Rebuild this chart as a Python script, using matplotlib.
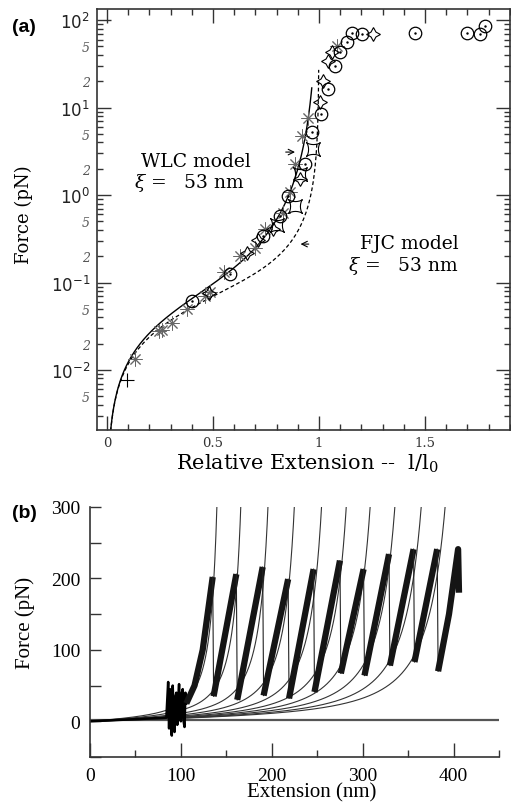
import numpy as np
import matplotlib.pyplot as plt
from matplotlib.path import Path
from matplotlib.ticker import LogLocator, MultipleLocator, FuncFormatter

plt.rcParams['mathtext.fontset'] = 'dejavuserif'

# ---------------- panel (a): DNA stretching, force vs relative extension
circ_x = [0.40, 0.58, 0.737, 0.816, 0.855, 0.934, 0.966, 1.01, 1.044, 1.075, 1.099, 1.131, 1.154, 1.201, 1.453, 1.697, 1.759, 1.783]
circ_f = [0.062, 0.125, 0.34, 0.58, 0.98, 2.26, 5.3, 8.4, 16.3, 30, 43, 56, 72, 69, 71, 71, 69, 85]

ast_x = [0.134, 0.244, 0.26, 0.307, 0.377, 0.464, 0.487, 0.55, 0.627, 0.698, 0.745, 0.832, 0.863, 0.887, 0.918, 0.95, 1.083]
ast_f = [0.0134, 0.028, 0.029, 0.034, 0.050, 0.071, 0.077, 0.131, 0.20, 0.25, 0.41, 0.63, 1.07, 2.26, 4.76, 7.7, 51]

star_x = [0.48, 0.659, 0.714, 0.785, 0.91, 1.005, 1.02, 1.043, 1.06, 1.255]
star_f = [0.075, 0.22, 0.31, 0.41, 1.52, 11.5, 20, 34, 43, 69]

astr_x = [0.80, 0.887, 0.91, 0.97]
astr_f = [0.45, 0.75, 1.74, 3.4]

plus_x = [0.094]
plus_f = [0.0076]

kT = 4.1          # pN nm
xi_nm = 53.0      # persistence length of both models
wlc_xmax = 0.966  # solid curve stops here
fjc_fmax = 27.0   # dashed curve stops here

# ---------------- panel (b): titin sawtooth + WLC fits
peak_x = [135, 161, 190, 218, 246, 275, 301, 329, 356, 382]
peak_f = [202, 206, 216, 199, 213, 225, 213, 234, 241, 241]
trough_f = [35, 30, 36, 32, 41, 67, 64, 78, 83, 70]
first_rise_x = [106, 115, 124, 135]
first_rise_f = [25, 50, 100, 202]
last_rise_x = [383, 395, 405, 406]
last_rise_f = [70, 150, 241, 180]
noise_x = [0, 84, 85, 86, 87, 88, 89, 90, 91, 92, 93, 94, 95, 96, 97, 98, 99, 100, 101, 102, 103, 104, 105, 106]
noise_f = [0, 5, 30, 55, -10, 45, 0, -20, 50, 10, -15, 35, 40, -5, 30, 52, 5, 0, 40, 45, 0, -8, 40, 25]
contour_L = [154, 183, 216, 248, 281, 311, 340, 370, 402, 431]
p_titin = 0.4     # nm

W, H = 511, 812
fig = plt.figure(figsize=(W / 100, H / 100), dpi=100)

# ======== (a)
ax1 = fig.add_axes([97 / W, 1 - 431 / H, (510 - 97) / W, (431 - 10) / H])
ax1.set_yscale('log')

x = np.linspace(0.0, wlc_xmax, 800)
f_wlc = kT / xi_nm * (1 / (4 * (1 - x) ** 2) - 0.25 + x)
ax1.plot(x, f_wlc, color='black', lw=1.0)

u = np.logspace(-2, np.log10(fjc_fmax / (kT / (2 * xi_nm))), 800)
x_fjc = 1 / np.tanh(u) - 1 / u
ax1.plot(x_fjc, u * kT / (2 * xi_nm), color='black', lw=0.9, ls=(0, (3, 2)))

t = np.linspace(0, 2 * np.pi, 41)
ax_, ay_ = np.cos(t) ** 3, np.sin(t) ** 3
astroid = Path(np.column_stack([(ax_ - ay_) / np.sqrt(2), (ax_ + ay_) / np.sqrt(2)]))

ax1.plot(ast_x, ast_f, ls='none', marker=(8, 2, 0), ms=10, mew=0.7, color='#666666')
ax1.plot(star_x, star_f, ls='none', marker=(4, 1, 0), ms=10, mfc='none', mec='black', mew=0.8)
ax1.plot(astr_x, astr_f, ls='none', marker=astroid, ms=10, mfc='none', mec='black', mew=0.8)
ax1.plot(plus_x, plus_f, ls='none', marker='+', ms=10, mew=0.8, color='black')
ax1.plot(circ_x, circ_f, ls='none', marker='o', ms=9, mfc='none', mec='black', mew=0.9)
ax1.plot(circ_x, circ_f, ls='none', marker='.', ms=1.5, color='black')

ax1.set_xlim(-0.047, 1.901)
ax1.set_ylim(0.00206, 134)
ax1.xaxis.set_major_locator(MultipleLocator(0.5))
ax1.xaxis.set_minor_locator(MultipleLocator(0.1))
ax1.xaxis.set_major_formatter(FuncFormatter(lambda v, p: '%g' % v))
ax1.yaxis.set_major_locator(LogLocator(base=10, numticks=10))
ax1.yaxis.set_minor_locator(LogLocator(base=10, subs=np.arange(2, 10), numticks=20))


def minor_lab(v, pos):
    m = round(v / 10 ** np.floor(np.log10(v) + 1e-9))
    return str(m) if m in (2, 5) else ''


ax1.yaxis.set_minor_formatter(FuncFormatter(minor_lab))
ax1.tick_params(which='both', direction='in', top=True, right=True, color='#333333', width=1.0)
ax1.tick_params(which='major', length=10)
ax1.tick_params(which='minor', length=4)
ax1.tick_params(axis='x', which='major', labelsize=9.5, pad=4, labelcolor='#333333',
                labelfontfamily='DejaVu Serif')
ax1.tick_params(axis='y', which='major', labelsize=12, pad=5, labelcolor='#222222')
ax1.tick_params(axis='y', which='minor', labelsize=9, pad=5, labelcolor='#555555',
                labelfontfamily='DejaVu Serif')
for lab in ax1.get_yticklabels(minor=True):
    lab.set_style('italic')
for s in ax1.spines.values():
    s.set_linewidth(1.2)
    s.set_color('#333333')

ax1.set_ylabel('Force (pN)', family='DejaVu Serif', fontsize=13)
ax1.yaxis.set_label_coords(-0.155, 0.513)
ax1.set_xlabel('Relative Extension --  l/l$_0$', family='DejaVu Serif', fontsize=15)
ax1.xaxis.set_label_coords(0.51, -0.052)

ax1.text(0.42, 2.45, 'WLC model', family='DejaVu Serif', fontsize=13.5, ha='center', va='center')
ax1.text(0.39, 1.40, r'$\xi$ =   53 nm', family='DejaVu Serif', fontsize=13.5, ha='center', va='center')
ax1.text(1.425, 0.28, 'FJC model', family='DejaVu Serif', fontsize=13.5, ha='center', va='center')
ax1.text(1.40, 0.16, r'$\xi$ =   53 nm', family='DejaVu Serif', fontsize=13.5, ha='center', va='center')
ax1.annotate('', xy=(0.9, 3.1), xytext=(0.83, 3.1),
             arrowprops=dict(arrowstyle='->', lw=0.8, color='black'))
ax1.annotate('', xy=(0.9, 0.275), xytext=(0.965, 0.275),
             arrowprops=dict(arrowstyle='->', lw=0.8, color='black'))

fig.text(12 / W, 1 - 27 / H, '(a)', family='Liberation Sans', weight='bold', fontsize=14, va='center')

# ======== (b)
ax2 = fig.add_axes([90 / W, 1 - 758 / H, (499 - 90) / W, (758 - 508) / H])
ax2.axhline(2, color='#555555', lw=1.6)

for L in contour_L:
    xs = np.linspace(0, L * 0.91, 600)
    r = xs / L
    fs = kT / p_titin * (1 / (4 * (1 - r) ** 2) - 0.25 + r)
    ax2.plot(xs, fs, color='#333333', lw=0.8)

ax2.plot(noise_x, noise_f, color='black', lw=1.8)
ax2.plot(first_rise_x, first_rise_f, color='#151515', lw=4.5, solid_capstyle='butt')
for i in range(len(peak_x)):
    ax2.plot([peak_x[i], peak_x[i] + 1], [peak_f[i], trough_f[i]], color='#222222', lw=0.8)
    if i + 1 < len(peak_x):
        ax2.plot([peak_x[i] + 1, peak_x[i + 1]], [trough_f[i], peak_f[i + 1]],
                 color='#151515', lw=4.5, solid_capstyle='butt')
ax2.plot(last_rise_x, last_rise_f, color='#151515', lw=4.5, solid_capstyle='butt')

ax2.set_xlim(0, 450)
ax2.set_ylim(-50, 300)
ax2.spines['top'].set_visible(False)
ax2.spines['right'].set_visible(False)
for s in ('left', 'bottom'):
    ax2.spines[s].set_linewidth(1.2)
    ax2.spines[s].set_color('#333333')
ax2.xaxis.set_major_locator(MultipleLocator(100))
ax2.xaxis.set_minor_locator(MultipleLocator(50))
ax2.yaxis.set_major_locator(MultipleLocator(100))
ax2.yaxis.set_minor_locator(MultipleLocator(50))
ax2.tick_params(which='both', direction='in', color='#333333', width=1.0)
ax2.tick_params(axis='x', which='major', length=10)
ax2.tick_params(axis='x', which='minor', length=5)
ax2.tick_params(axis='y', which='both', length=8)
ax2.tick_params(which='major', labelsize=14, pad=7, labelfontfamily='Liberation Serif')
ax2.set_xlabel('Extension (nm)', family='Liberation Serif', fontsize=15)
ax2.xaxis.set_label_coords(0.543, -0.10)
ax2.set_ylabel('Force (pN)', family='Liberation Serif', fontsize=15)
ax2.yaxis.set_label_coords(-0.135, 0.54)

fig.text(12 / W, 1 - 514 / H, '(b)', family='Liberation Sans', weight='bold', fontsize=14, va='center')

fig.savefig('out.png', dpi=100)
